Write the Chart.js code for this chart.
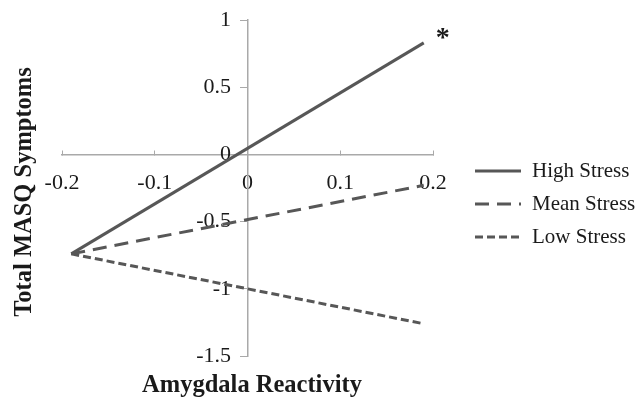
<!DOCTYPE html>
<html>
<head>
<meta charset="utf-8">
<script src="https://cdn.jsdelivr.net/npm/chart.js@4"></script>
<style>
    html, body { margin: 0; padding: 0; background: #fff; }
    #wrap { width: 644px; height: 402px; }
</style>
</head>
<body>
<div id="wrap"><canvas id="chart"></canvas></div>
<script>
// Data
const xValues = [-0.19, 0.19];
const highStress = [-0.74, 0.83];
const meanStress = [-0.74, -0.23];
const lowStress = [-0.74, -1.26];
const seriesLabels = ['High Stress', 'Mean Stress', 'Low Stress'];

const xTitle = 'Amygdala Reactivity';
const yTitle = 'Total MASQ Symptoms';

const serif = '"Liberation Serif", "Times New Roman", serif';
const lineColor = '#575757';
const axisColor = '#a9a9a9';

const toPoints = (ys) => xValues.map((x, i) => ({ x: x, y: ys[i] }));
const fmt = (v) => String(Math.round(v * 10) / 10);

const dashes = [[], [14, 8], [8, 4]];

// Legend, axis titles and the asterisk, drawn after the chart
const extrasPlugin = {
    id: 'extras',
    afterDraw(chart) {
        const ctx = chart.ctx;
        ctx.save();

        // legend
        chart.data.datasets.forEach((ds, i) => {
            const y = 171 + i * 33;
            ctx.strokeStyle = ds.borderColor;
            ctx.lineWidth = 3;
            ctx.setLineDash(ds.borderDash || []);
            ctx.beginPath();
            ctx.moveTo(475, y);
            ctx.lineTo(521, y);
            ctx.stroke();
            ctx.setLineDash([]);
            ctx.fillStyle = '#1a1a1a';
            ctx.font = '21px ' + serif;
            ctx.textAlign = 'left';
            ctx.textBaseline = 'middle';
            ctx.fillText(ds.label, 532, y);
        });

        // axis titles
        ctx.fillStyle = '#1a1a1a';
        ctx.font = 'bold 24.5px ' + serif;
        ctx.textAlign = 'center';
        ctx.textBaseline = 'middle';
        ctx.fillText(xTitle, 252, 386);

        ctx.translate(25, 192);
        ctx.rotate(-Math.PI / 2);
        ctx.fillText(yTitle, 0, 0);
        ctx.setTransform(1, 0, 0, 1, 0, 0);

        // significance marker at the end of the high stress line
        const xs = chart.scales.x, ys = chart.scales.y;
        ctx.font = 'bold 28px ' + serif;
        ctx.textAlign = 'left';
        ctx.fillText('*', xs.getPixelForValue(xValues[1]) + 12, ys.getPixelForValue(highStress[1]) - 4);

        ctx.restore();
    }
};

const ctx = document.getElementById('chart').getContext('2d');
new Chart(ctx, {
    type: 'scatter',
    data: {
        datasets: [highStress, meanStress, lowStress].map((ys, i) => ({
            label: seriesLabels[i],
            data: toPoints(ys),
            showLine: true,
            borderColor: lineColor,
            backgroundColor: lineColor,
            borderWidth: 3,
            borderDash: dashes[i],
            pointRadius: 0,
            tension: 0
        }))
    },
    options: {
        responsive: true,
        maintainAspectRatio: false,
        animation: false,
        layout: { padding: { left: 62, right: 211, top: 20, bottom: 46 } },
        plugins: {
            legend: { display: false },
            tooltip: { enabled: false }
        },
        scales: {
            x: {
                type: 'linear',
                position: { y: 0 },
                min: -0.2,
                max: 0.2,
                grid: { drawOnChartArea: false, drawTicks: true, tickLength: -5, color: axisColor },
                border: { color: axisColor, width: 1.5 },
                ticks: {
                    stepSize: 0.1,
                    padding: 21,
                    color: '#1a1a1a',
                    font: { family: serif, size: 22 },
                    maxRotation: 0,
                    callback: (v) => fmt(v)
                }
            },
            y: {
                type: 'linear',
                position: { x: 0 },
                min: -1.5,
                max: 1,
                grid: { drawOnChartArea: false, drawTicks: true, tickLength: 7, color: axisColor },
                border: { color: axisColor, width: 1.5 },
                ticks: {
                    stepSize: 0.5,
                    color: '#1a1a1a',
                    font: { family: serif, size: 22 },
                    // the label is anchored on the axis itself, so pad it with spaces
                    callback: (v) => fmt(v) + '   '
                }
            }
        }
    },
    plugins: [extrasPlugin]
});
</script>
</body>
</html>
